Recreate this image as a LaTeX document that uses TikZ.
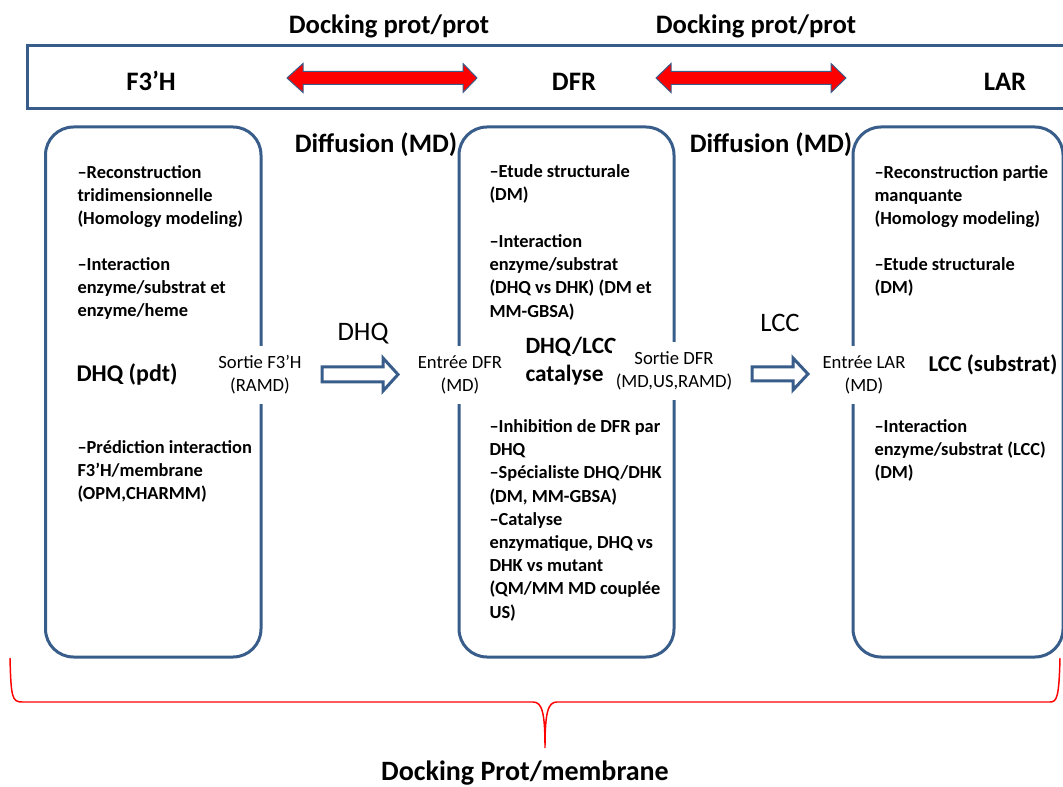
\documentclass[tikz,border=0pt]{standalone}
\usepackage{fontspec}
\setmainfont{Carlito}
\definecolor{boxblue}{RGB}{56,93,138}

\tikzset{every picture/.style={line width=0.75pt}}
\tikzset{
	stage/.style={draw=boxblue, line width=2.25pt, rounded corners=21pt},
	bodytxt/.style={anchor=north west, inner sep=0.75pt, align=left, font=\fontsize{13.8}{17.4}\selectfont\bfseries},
	gate/.style={fill=white, inner xsep=3pt, inner ysep=7pt, align=center, font=\fontsize{14}{17.25}\selectfont},
	headtxt/.style={anchor=base, inner sep=0pt, font=\fontsize{20}{24}\selectfont\bfseries},
	flowtxt/.style={anchor=base, inner sep=0pt, font=\fontsize{20}{24}\selectfont},
	sidetxt/.style={anchor=base west, inner sep=0pt, font=\fontsize{17.5}{21}\selectfont\bfseries}
}

\begin{document}
\begin{tikzpicture}[x=0.75pt,y=0.75pt,yscale=-1,xscale=1]
	\useasboundingbox (0,0) rectangle (1063,787);
	\clip (0,0) rectangle (1063,787);

	%Shape: Rectangle
	\draw [draw=boxblue, line width=2.25pt] (27,46) rectangle (1080,109) ;
	%Shape: Double Arrow
	\draw [draw=boxblue, fill=red] (287,78) -- (303,63.5) -- (303,71.5) -- (463,71.5) -- (463,63.5) -- (477,78) -- (463,92.5) -- (463,84.5) -- (303,84.5) -- (303,92.5) -- cycle ;
	%Shape: Double Arrow
	\draw [draw=boxblue, fill=red] (656,78) -- (671,63.5) -- (671,71.5) -- (831,71.5) -- (831,63.5) -- (846,78) -- (831,92.5) -- (831,84.5) -- (671,84.5) -- (671,92.5) -- cycle ;

	%Rounded Rect
	\draw [stage] (45.5,127) rectangle (261,657) ;
	%Rounded Rect
	\draw [stage] (459,127) rectangle (674,657) ;
	%Rounded Rect
	\draw [stage] (853,127) rectangle (1063,657) ;

	%Shape: Right Arrow
	\draw [draw=boxblue, line width=2.25pt, fill=white] (322,367) -- (383,367) -- (383,358) -- (398,374.5) -- (383,391) -- (383,382) -- (322,382) -- cycle ;
	%Shape: Right Arrow
	\draw [draw=boxblue, line width=2.25pt, fill=white] (752,367) -- (793,367) -- (793,358) -- (808,374) -- (793,390) -- (793,381) -- (752,381) -- cycle ;

	%Curve Lines
	\draw [color=red, line width=1.1pt] (10,658) .. controls (11,697) and (12,702) .. (22,702) -- (533,702) .. controls (542,702) and (545,712) .. (545,748) .. controls (545,712) and (548,702) .. (557,702) -- (1050,702) .. controls (1057,702) and (1059,697) .. (1060,658) ;

	% Text Node
	\draw (389,34) node [headtxt] (dockA) {Docking prot/prot};
	% Text Node
	\draw (756,34) node [headtxt] (dockB) {Docking prot/prot};
	% Text Node
	\draw (151,91) node [headtxt] (f3h) {F3’H};
	% Text Node
	\draw (574,91) node [headtxt] (dfr) {DFR};
	% Text Node
	\draw (1005,91) node [headtxt] (lar) {LAR};
	% Text Node
	\draw (376,153) node [headtxt] (diffA) {Diffusion (MD)};
	% Text Node
	\draw (771,153) node [headtxt] (diffB) {Diffusion (MD)};
	% Text Node
	\draw (525,780) node [headtxt, font=\fontsize{21}{25}\selectfont\bfseries] (dockM) {Docking Prot/membrane};

	% Text Node
	\draw (76,164) node [bodytxt] (f3hA) {–Reconstruction\\tridimensionnelle\\(Homology modeling)};
	% Text Node
	\draw (76,256) node [bodytxt] (f3hB) {–Interaction\\enzyme/substrat et\\enzyme/heme};
	% Text Node
	\draw (76,439) node [bodytxt] (f3hC) {–Prédiction interaction\\F3’H/membrane\\(OPM,CHARMM)};
	% Text Node
	\draw (76,382) node [sidetxt, font=\fontsize{18}{22}\selectfont\bfseries] (dhqpdt) {DHQ (pdt)};

	% Text Node
	\draw (488,163) node [bodytxt] (dfrA) {–Etude structurale\\(DM)};
	% Text Node
	\draw (488,233) node [bodytxt] (dfrB) {–Interaction\\enzyme/substrat\\(DHQ vs DHK) (DM et\\MM-GBSA)};
	% Text Node
	\draw (488,418) node [bodytxt] (dfrC) {–Inhibition de DFR par\\DHQ\\–Spécialiste DHQ/DHK\\(DM, MM-GBSA)\\–Catalyse\\enzymatique, DHQ vs\\DHK vs mutant\\(QM/MM MD couplée\\US)};
	% Text Node
	\draw (525,354) node [sidetxt] (catal) {DHQ/LCC};
	% Text Node
	\draw (525,382) node [sidetxt] (catalB) {catalyse};

	% Text Node
	\draw (873,164) node [bodytxt] (larA) {–Reconstruction partie\\manquante\\(Homology modeling)};
	% Text Node
	\draw (873,256) node [bodytxt] (larB) {–Etude structurale\\(DM)};
	% Text Node
	\draw (873,418) node [bodytxt] (larC) {–Interaction\\enzyme/substrat (LCC)\\(DM)};
	% Text Node
	\draw (928,372) node [sidetxt, font=\fontsize{17}{21}\selectfont\bfseries] (lccsub) {LCC (substrat)};

	% Text Node
	\draw (260,375) node [gate] (outF) {Sortie F3’H\\(RAMD)};
	% Text Node
	\draw (460,375) node [gate] (inD) {Entrée DFR\\(MD)};
	% Text Node
	\draw (674,371) node [gate] (outD) {Sortie DFR\\(MD,US,RAMD)};
	% Text Node
	\draw (864,375) node [gate] (inL) {Entrée LAR\\(MD)};

	% Text Node
	\draw (363,341) node [flowtxt] (dhq) {DHQ};
	% Text Node
	\draw (780,332) node [flowtxt] (lcc) {LCC};

\end{tikzpicture}
\end{document}
